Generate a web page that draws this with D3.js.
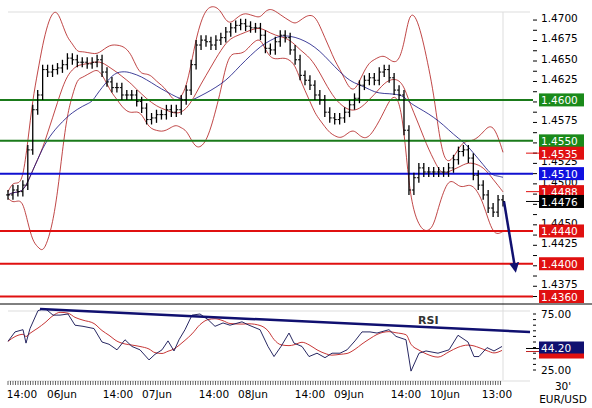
<!DOCTYPE html><html><head><meta charset="utf-8">
<script src="https://cdn.jsdelivr.net/npm/d3@7"></script>
<style>body{margin:0;background:#fff}svg{display:block;font-family:Verdana,"DejaVu Sans",sans-serif}</style></head><body>
<svg id="c" width="592" height="408"></svg>
<script>
const closes=[1.4484,1.4490,1.4488,1.4496,1.4539,1.4588,1.4606,1.4637,1.4634,1.4637,1.4639,1.4643,1.4651,1.4649,1.4646,1.4646,1.4644,1.4646,1.4649,1.4634,1.4622,1.4615,1.4615,1.4606,1.4606,1.4606,1.4598,1.4590,1.4576,1.4578,1.4582,1.4582,1.4588,1.4585,1.4588,1.4600,1.4612,1.4643,1.4667,1.4673,1.4671,1.4667,1.4673,1.4676,1.4683,1.4688,1.4691,1.4693,1.4690,1.4688,1.4688,1.4679,1.4663,1.4661,1.4671,1.4679,1.4676,1.4661,1.4649,1.4630,1.4624,1.4618,1.4606,1.4600,1.4585,1.4578,1.4576,1.4578,1.4585,1.4594,1.4602,1.4618,1.4624,1.4627,1.4624,1.4634,1.4637,1.4627,1.4612,1.4606,1.4563,1.4490,1.4505,1.4517,1.4512,1.4512,1.4512,1.4512,1.4512,1.4517,1.4527,1.4537,1.4539,1.4529,1.4508,1.4496,1.4484,1.4468,1.4463,1.4478,1.4476];
const rsiX=[8,15,23,26,30,38,45,53,60,68,75,83,94,102,109,117,125,132,140,149,155,162,168,174,179,185,192,200,208,215,223,230,242,249,260,268,274,281,289,294,302,309,317,325,332,340,347,355,362,370,377,389,396,406,411,419,426,438,449,458,468,474,479,487,494,502];
const rsi=[50.6,59,61,49,62,78,80,74,74,75,65,64,62,50,48,43,52,46,43,34,39,43,51,42,52,61,74,75,70,64,67,65,68,65,61,46,37,46,58,49,46,37,40,36,40,40,43,51,59,59,58,61,55,52,24,40,42,40,43,56,50,37,37,45,42,46];
const priceTicks=[1.4700,1.4675,1.4650,1.4625,1.4575,1.4525,1.4500,1.4450,1.4425,1.4375];
const levels=[{v:1.4600,c:"#1a7a1a"},{v:1.4550,c:"#1a7a1a"},{v:1.4510,c:"#1010d0"},{v:1.4440,c:"#e01010"},{v:1.4400,c:"#e01010"},{v:1.4360,c:"#e01010"}];
const markers=[{v:1.4535,c:"#e01010"},{v:1.4488,c:"#e01010"},{v:1.4476,c:"#000"}];
const rsiTicks=[75,25];
const timeLabels=[["14:00",22],["06Jun",62],["14:00",118],["07Jun",157],["14:00",214],["08Jun",253],["14:00",310],["09Jun",349],["14:00",406],["10Jun",445],["13:00",497]];

const svg=d3.select("#c");
const x=d3.scaleLinear().domain([0,closes.length-1]).range([8,503]);
const y=d3.scaleLinear().domain([1.4360,1.4700]).range([296.5,18]);
const ry=d3.scaleLinear().domain([25,75]).range([370,314]);
const FS=10.5;
svg.append("line").attr("x1",8).attr("x2",530).attr("y1",12).attr("y2",12).attr("stroke","#ddd");
svg.append("line").attr("x1",503).attr("x2",503).attr("y1",12).attr("y2",380).attr("stroke","#ddd");
svg.append("line").attr("x1",0).attr("x2",592).attr("y1",304).attr("y2",304).attr("stroke","#000");
svg.append("line").attr("x1",8).attr("x2",530).attr("y1",311).attr("y2",311).attr("stroke","#ddd");
svg.append("line").attr("x1",8).attr("x2",530).attr("y1",381).attr("y2",381).attr("stroke","#ddd");
const ax=svg.append("g");
d3.range(1.4360,1.4705,0.00125).forEach(v=>{ax.append("line").attr("x1",533).attr("x2",537).attr("y1",y(v)).attr("y2",y(v)).attr("stroke","#000");});
priceTicks.forEach(v=>ax.append("text").attr("x",541).attr("y",y(v)+4).attr("font-size",FS).text(v.toFixed(4)));
function sma(a,n){return a.map((d,i)=>{const s=a.slice(Math.max(0,i-n+1),i+1);return d3.mean(s);});}
function sd(a,n){return a.map((d,i)=>{const s=a.slice(Math.max(0,i-n+1),i+1);return s.length>1?d3.deviation(s):0;});}
const P=8,mid=sma(closes,P),dev=sd(closes,P);
const line=d3.line().x((d,i)=>x(i)).y(d=>y(d)).curve(d3.curveBasis);
[mid,mid.map((m,i)=>m+2*dev[i]+0.0004),mid.map((m,i)=>m-2*dev[i]-0.0004)].forEach(a=>svg.append("path").attr("d",line(a)).attr("fill","none").attr("stroke","#b01818").attr("stroke-width",0.8));
svg.append("path").attr("d",line(sma(closes,18))).attr("fill","none").attr("stroke","#101080").attr("stroke-width",0.8);
levels.forEach(l=>{svg.append("line").attr("x1",0).attr("x2",533).attr("y1",y(l.v)).attr("y2",y(l.v)).attr("stroke",l.c).attr("stroke-width",2);});
closes.forEach((c,i)=>{const o=i?closes[i-1]:c;const hi=Math.max(o,c)+0.0006,lo=Math.min(o,c)-0.0006;
 svg.append("line").attr("x1",x(i)).attr("x2",x(i)).attr("y1",y(hi)).attr("y2",y(lo)).attr("stroke","#000").attr("stroke-width",1.3);
 svg.append("line").attr("x1",x(i)-2).attr("x2",x(i)).attr("y1",y(o)).attr("y2",y(o)).attr("stroke","#000");
 svg.append("line").attr("x1",x(i)).attr("x2",x(i)+2).attr("y1",y(c)).attr("y2",y(c)).attr("stroke","#000");});
svg.append("defs").append("marker").attr("id","ah").attr("viewBox","0 0 10 10").attr("refX",5).attr("refY",5).attr("markerWidth",4).attr("markerHeight",4).attr("orient","auto").append("path").attr("d","M0,0L10,5L0,10z").attr("fill","#101070");
svg.append("line").attr("x1",x(closes.length-1)+1).attr("y1",y(1.4476)).attr("x2",515).attr("y2",y(1.4395)).attr("stroke","#101070").attr("stroke-width",2.5).attr("marker-end","url(#ah)");
levels.concat(markers).forEach(l=>{const g=svg.append("g");
 if(markers.includes(l))g.append("line").attr("x1",526).attr("x2",540).attr("y1",y(l.v)).attr("y2",y(l.v)).attr("stroke",l.c);
 g.append("rect").attr("x",539).attr("y",y(l.v)-6.5).attr("width",45).attr("height",13).attr("fill",l.c==="#1a7a1a"?"#1a8a1a":l.c==="#1010d0"?"#1010e0":l.c);
 g.append("text").attr("x",541).attr("y",y(l.v)+4.5).attr("font-size",FS).attr("fill","#fff").text(l.v.toFixed(4));});
d3.range(25,76,5).forEach(v=>svg.append("line").attr("x1",533).attr("x2",536).attr("y1",ry(v)).attr("y2",ry(v)).attr("stroke","#000"));
rsiTicks.forEach(v=>svg.append("text").attr("x",541).attr("y",ry(v)+4).attr("font-size",FS).text(v.toFixed(2)));
const rl=d3.line().x((d,i)=>rsiX[i]).y(d=>ry(d));
svg.append("path").attr("d",rl.curve(d3.curveMonotoneX)(sma(rsi,4))).attr("fill","none").attr("stroke","#c02020").attr("stroke-width",0.9);
svg.append("path").attr("d",d3.line().x((d,i)=>rsiX[i]).y(d=>ry(d))(rsi)).attr("fill","none").attr("stroke","#101050").attr("stroke-width",0.9);
svg.append("line").attr("x1",40).attr("y1",309).attr("x2",530).attr("y2",332).attr("stroke","#101070").attr("stroke-width",2.5);
svg.append("text").attr("x",418).attr("y",324).attr("font-size",11).attr("font-weight","bold").attr("fill","#333").text("RSI");
svg.append("line").attr("x1",526).attr("x2",540).attr("y1",ry(44.2)).attr("y2",ry(44.2)).attr("stroke","#000");
svg.append("line").attr("x1",526).attr("x2",540).attr("y1",ry(41.5)).attr("y2",ry(41.5)).attr("stroke","#c02020");
svg.append("rect").attr("x",539).attr("y",ry(41.5)-3).attr("width",45).attr("height",10).attr("fill","#e01010");
svg.append("rect").attr("x",539).attr("y",ry(44.2)-7).attr("width",45).attr("height",12).attr("fill","#101070");
svg.append("text").attr("x",541).attr("y",ry(44.2)+4).attr("font-size",FS).attr("fill","#fff").text("44.20");
d3.range(8,503,2.5).forEach(v=>svg.append("line").attr("x1",v).attr("x2",v).attr("y1",381).attr("y2",385).attr("stroke","#000").attr("stroke-width",0.6));
timeLabels.forEach(([t,px])=>svg.append("text").attr("x",px).attr("y",398).attr("font-size",FS).attr("text-anchor","middle").text(t));
svg.append("text").attr("x",563).attr("y",390).attr("font-size",FS).attr("text-anchor","middle").text("30'");
svg.append("text").attr("x",563).attr("y",403).attr("font-size",FS).attr("text-anchor","middle").text("EUR/USD");
</script></body></html>
